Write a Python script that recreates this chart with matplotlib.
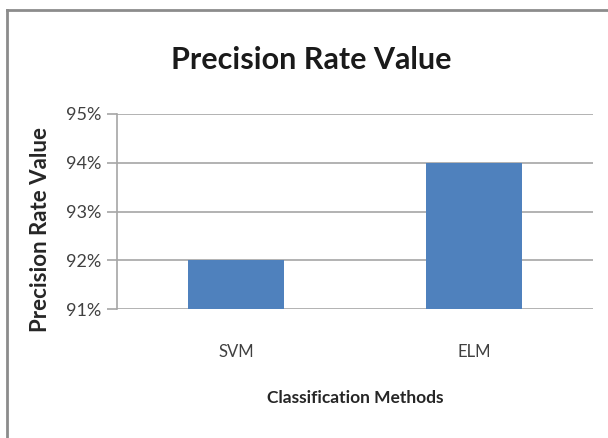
import matplotlib
matplotlib.use('Agg')
import matplotlib.pyplot as plt
from matplotlib.lines import Line2D
from matplotlib.ticker import FuncFormatter

methods = ['SVM', 'ELM']
precision = [92, 94]
y_ticks = [91, 92, 93, 94, 95]

plt.rcParams['font.family'] = ['Lato', 'DejaVu Sans']

fig = plt.figure(figsize=(6.08, 4.38), dpi=100)
ax = fig.add_axes([117 / 608, 1 - 309 / 438, 476 / 608, 195 / 438])

ax.bar(range(len(methods)), precision, width=0.4, color='#4f81bd', zorder=3)
ax.set_xlim(-0.5, len(methods) - 0.5)
ax.set_ylim(y_ticks[0], y_ticks[-1])
ax.set_yticks(y_ticks)
ax.yaxis.set_major_formatter(FuncFormatter(lambda v, p: '{:.0f}%'.format(v)))
ax.set_xticks(range(len(methods)))
ax.set_xticklabels(methods)
ax.grid(axis='y', color='#a6a6a6', linewidth=1.2, zorder=0)

for side in ['top', 'right', 'bottom']:
    ax.spines[side].set_visible(False)
ax.spines['left'].set_color('#a6a6a6')
ax.spines['left'].set_linewidth(1.2)
ax.tick_params(axis='y', length=7, color='#a6a6a6', width=1.2, labelsize=13,
               labelcolor='#404040', pad=4)
ax.tick_params(axis='x', length=0, labelsize=12, labelcolor='#404040', pad=25)

ax.set_ylabel('Precision Rate Value', fontsize=16, fontweight='bold',
              color='#262626')
ax.yaxis.set_label_coords(-0.139, 0.41)
ax.set_xlabel('Classification Methods', fontsize=12.5, fontweight='bold',
              color='#262626', labelpad=22)

fig.text(311 / 608, 1 - 60 / 438, 'Precision Rate Value', ha='center',
         va='center', fontsize=22, fontweight='bold', color='#1a1a1a')

# outer chart frame
fig.add_artist(Line2D([7 / 608, 7 / 608], [0, 1 - 10 / 438],
                      transform=fig.transFigure, color='#8c8c8c', linewidth=2))
fig.add_artist(Line2D([7 / 608, 1], [1 - 10 / 438, 1 - 10 / 438],
                      transform=fig.transFigure, color='#8c8c8c', linewidth=2))

fig.savefig('out.png', dpi=100)
